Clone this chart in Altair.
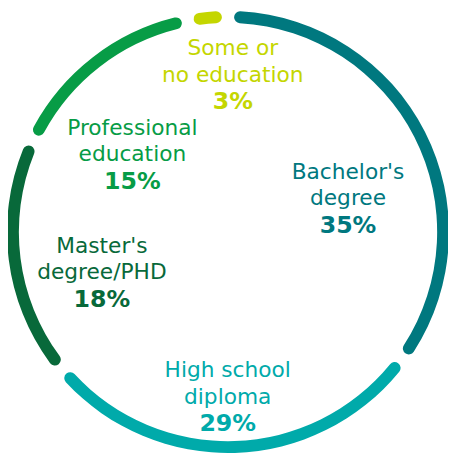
import math
import altair as alt
import pandas as pd

# ---- data ----
categories = [
    "Bachelor's degree",
    "High school diploma",
    "Master's degree/PHD",
    "Professional education",
    "Some or no education",
]
label_lines = [
    ["Bachelor's", "degree"],
    ["High school", "diploma"],
    ["Master's", "degree/PHD"],
    ["Professional", "education"],
    ["Some or", "no education"],
]
shares = [35, 29, 18, 15, 3]
colors = ["#00787F", "#00AAAA", "#08693A", "#079C46", "#C4D600"]

# label nudges (layout only), relative to the mid-angle point at LABEL_R
LABEL_R = 150
nudges = {
    "Bachelor's degree": (-12, 14),
    "High school diploma": (-5, -3),
    "Master's degree/PHD": (21, 2),
    "Professional education": (-5, 20),
    "Some or no education": (19, -30),
}

df = pd.DataFrame({
    "category": categories,
    "share": shares,
    "order": list(range(len(categories))),
    "lines": label_lines,
})

base = alt.Chart(df).transform_window(
    cum="sum(share)", sort=[alt.SortField("order")], frame=[None, 0]
).transform_calculate(
    start="datum.cum - datum.share",
    mid="datum.cum - datum.share / 2",
    pct="datum.share + '%'",
)

theta_scale = alt.Scale(domain=[0, 100], range=[0, 2 * math.pi])
color = alt.Color("category:N", scale=alt.Scale(domain=categories, range=colors), legend=None)

arcs = base.mark_arc(
    innerRadius=212, outerRadius=224, cornerRadius=6, padAngle=0.04
).encode(
    theta=alt.Theta("start:Q", scale=theta_scale, stack=None),
    theta2=alt.Theta2("cum:Q"),
    color=color,
)

layers = [arcs]
for cat in categories:
    dx, dy = nudges[cat]
    sub = base.transform_filter(alt.datum.category == cat)
    names = sub.mark_text(
        radius=LABEL_R, dx=dx, dy=dy, font="DejaVu Sans", fontSize=22,
        lineHeight=27, align="center", baseline="alphabetic",
    ).encode(
        theta=alt.Theta("mid:Q", scale=theta_scale, stack=None),
        text=alt.Text("lines:N"),
        color=color,
    )
    pct = sub.mark_text(
        radius=LABEL_R, dx=dx, dy=dy + 55, font="DejaVu Sans", fontSize=24,
        fontWeight="bold", align="center", baseline="alphabetic",
    ).encode(
        theta=alt.Theta("mid:Q", scale=theta_scale, stack=None),
        text=alt.Text("pct:N"),
        color=color,
    )
    layers += [names, pct]

chart = alt.layer(*layers).properties(
    width=446, height=448, autosize="none", padding=0
).configure_view(stroke=None)

chart.save("out.html", embed_options={"renderer": "svg", "actions": False})
